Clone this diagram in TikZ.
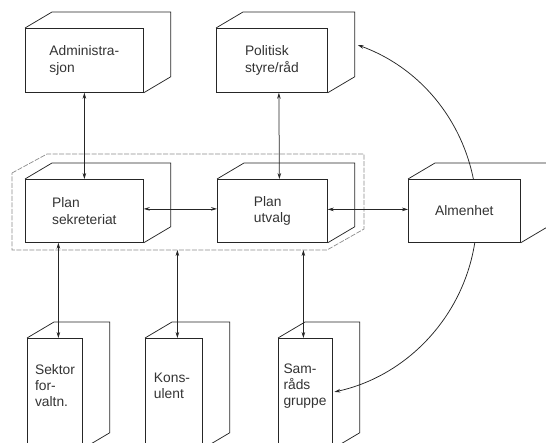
\documentclass[tikz,border=0pt]{standalone}
\usepackage{fontspec}
\setmainfont{Liberation Sans}
\usetikzlibrary{calc,arrows.meta}
\newcommand\boxback[1]{\draw[boxline] (#1.north west) -- ++(27,-16) -| ($(#1.south east)+(27,-16)$) -- (#1.south east);}
\begin{document}
\begin{tikzpicture}[x=1pt,y=-1pt,
  boxline/.style={draw=black!85, line width=0.75pt},
  front/.style={boxline, anchor=north west, inner sep=0pt, font=\fontsize{13.8}{16.5}\selectfont, align=left, text=black!80},
  lbl/.style={font=\fontsize{13.8}{16}\selectfont, align=left, text=black!80},
  arr/.style={boxline, {Stealth[length=6pt,width=3.6pt]}-{Stealth[length=6pt,width=3.6pt]}},
  frameline/.style={draw=black!45, line width=0.7pt, dash pattern=on 5pt off 1.5pt}]
\useasboundingbox (0,0) rectangle (546,442);
\clip (0,0) rectangle (546,442);

% dashed frame
\draw[frameline] (12,173) -- (47,154) -- (364,154) -- (364,229) -- (327,250) -- (12,250) -- cycle;
\coordinate (frameB) at (12,250);

% top row
\node[front, minimum width=118pt, minimum height=64pt] (adm) at (25,28) {Administra-\\sjon};
\boxback{adm}
\node[front, minimum width=111pt, minimum height=64pt] (pol) at (216,28) {Politisk\\styre/råd};
\boxback{pol}

% middle row
\node[front, minimum width=118pt, minimum height=63pt] (ps) at (25,179) {Plan\\sekreteriat};
\boxback{ps}
\node[front, minimum width=110pt, minimum height=63pt] (pu) at (217,179) {Plan\\utvalg};
\boxback{pu}

% bottom row
\node[front, minimum width=55pt, minimum height=110pt] (sek) at (27,338) {};
\boxback{sek}
\node[lbl] (sekT) at (55,386) {Sektor\\for-\\valtn.};
\node[front, minimum width=57pt, minimum height=110pt] (kon) at (145,338) {};
\boxback{kon}
\node[lbl] (konT) at (172,386) {Kons-\\ulent};
\node[front, minimum width=54pt, minimum height=110pt] (sam) at (278,338) {};
\boxback{sam}
\node[lbl] (samT) at (305,386) {Sam-\\råds\\gruppe};

% arc from Politisk to Samråds, behind Almenhet
\draw[arr] ($(pol.north east)+(30,17)$) arc[start angle=-70, end angle=77.7, radius=181];

% Almenhet
\node[front, fill=white, minimum width=112pt, minimum height=63pt] (alm) at (408,179) {Almenhet};
\boxback{alm}

% connectors
\draw[arr] (adm.south) -- (ps.north);
\draw[arr] ([xshift=7pt]pol.south) -- ([xshift=7pt]pu.north);
\draw[arr] ([yshift=2pt]ps.east) -- ([yshift=2pt]pu.west);
\draw[arr] ([yshift=1.5pt]pu.east) -- ([yshift=1.5pt]alm.west);
\draw[arr] ([xshift=3.5pt]sek.north |- ps.south) -- ([xshift=3.5pt]sek.north);
\draw[arr] ([xshift=3.5pt]kon.north |- frameB) -- ([xshift=3.5pt]kon.north);
\draw[arr] ([xshift=-2pt]sam.north |- frameB) -- ([xshift=-2pt]sam.north);
\end{tikzpicture}
\end{document}
